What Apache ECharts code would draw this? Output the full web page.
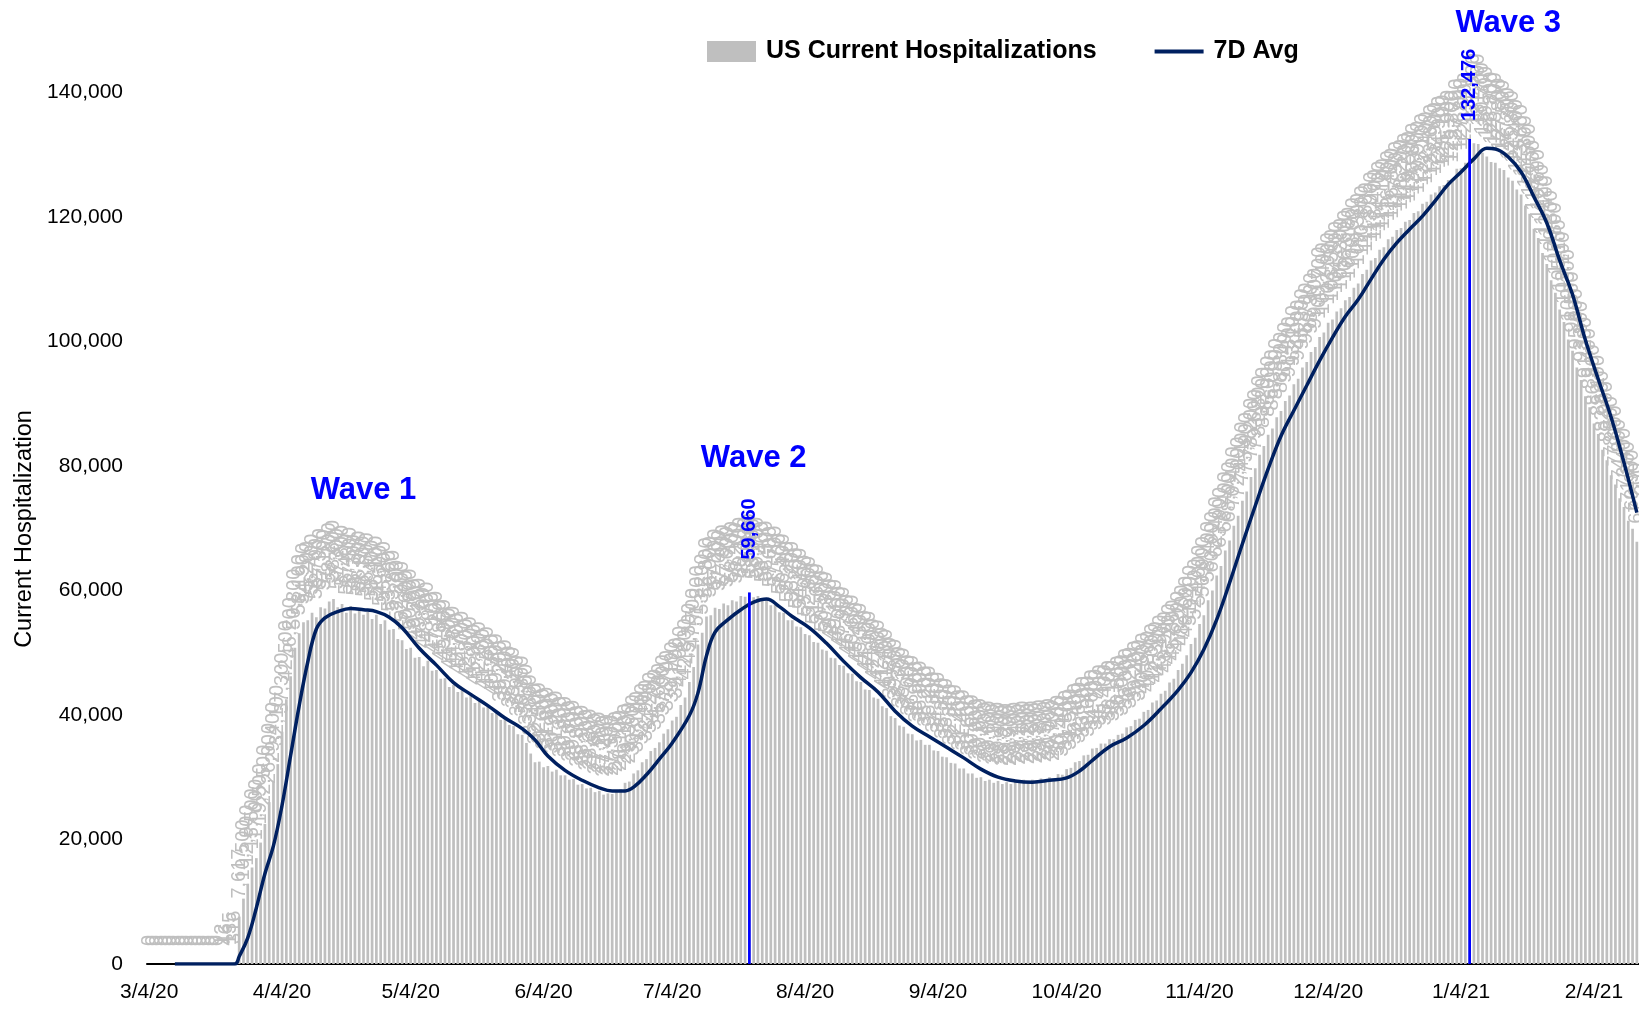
<!DOCTYPE html>
<html><head><meta charset="utf-8">
<script src="https://cdn.jsdelivr.net/npm/echarts@6/dist/echarts.min.js"></script>
<style>html,body{margin:0;padding:0;background:#fff}#chart{width:1639px;height:1010px}</style>
</head><body><div id="chart"></div>
<script>
// ---- data ----
const firstDay = [2020, 2, 4];   // 3/4/20
const dayCount = 348;            // through 2/14/21
const categories = [];
for (let i = 0; i < dayCount; i++) {
  const dt = new Date(firstDay[0], firstDay[1], firstDay[2] + i);
  categories.push((dt.getMonth() + 1) + '/' + dt.getDate() + '/' + String(dt.getFullYear()).slice(2));
}
const xTickLabels = ['3/4/20','4/4/20','5/4/20','6/4/20','7/4/20','8/4/20','9/4/20','10/4/20','11/4/20','12/4/20','1/4/21','2/4/21'];

const hospitalizations = [
  // Mar 2020 (3/4 - 3/31)
  0,0,0,0,0,0,0,0,0,0, 0,0,0,0,0,0,0, 12,46,135,316,7617, 10500,12900,15500,17000,19500,22500,
  // Apr
  26000,29400,32100,37300,42500,46200,50800,53100,54900,55200,
  56400,55700,57300,57100,58200,58600,57300,57800,56400,57500,
  56300,56900,56100,56600,55400,56100,54600,55200,53700,53800,
  // May
  52200,52000,50600,50800,49200,49300,47800,48700,47100,47200,
  45800,45900,44500,44800,43700,44000,42800,43100,41900,42300,
  41200,41500,40300,40400,39200,39400,38400,38200,36900,36800,35500,
  // Jun
  33800,32400,32500,31600,31800,30900,31200,30300,30300,29600,
  29700,28800,28900,28200,28300,27600,27800,27200,27400,27300,
  27900,28100,29100,29300,30600,31100,32400,32900,34200,34700,
  // Jul
  35600,37000,37700,39100,39700,41600,42800,45300,47700,51300,
  53200,55800,56000,57200,57000,57900,57600,58400,58200,59100,
  59000,59660,58900,59100,58400,58500,57600,57700,56500,56400,55200,
  // Aug
  55200,54200,54100,53000,52800,51700,51600,50500,50300,49200,
  49100,48000,47900,46700,46600,45400,45300,44100,44000,42800,
  42600,41400,41100,39800,39500,38300,38100,37000,36900,35900,36000,
  // Sep
  35200,35200,34300,34200,33300,33200,32300,32200,31400,31400,
  30600,30600,29900,30000,29400,29600,29100,29400,28900,29200,
  28900,29400,29100,29600,29200,29600,29300,29800,29500,30000,
  // Oct
  29700,30500,30400,31300,31500,32400,32600,33500,33600,34600,
  34700,35400,35400,36100,36100,36800,37000,38000,38200,39200,
  39400,40500,40800,42000,42300,43400,43900,45200,45800,47200,48200,
  // Nov
  49600,51400,52400,54600,56000,58400,60000,62400,63900,66400,
  68000,70400,72000,74400,75900,78200,79600,81800,83200,85000,
  86000,87800,88800,90400,91300,93100,94000,95800,96700,98300,
  // Dec
  99100,100700,101400,103000,103500,104800,105300,106600,107100,108600,
  109300,110800,111500,113000,113400,114700,115100,116400,116800,117900,
  118200,119200,119500,120600,120900,122100,122400,123600,123900,124900,125100,
  // Jan 2021
  125900,125800,127700,127800,128700,132476,131800,131700,130300,129700,
  128800,128700,127800,127500,126300,125800,124400,123600,121800,120500,
  118100,116600,114200,112400,109800,107800,105100,103100,100300,98500,95800,
  // Feb (2/1 - 2/14)
  93800,91200,89400,86800,85100,82600,80900,78500,77000,74800,73400,71200,69900,67800
];

const avgDates = ['3/10/20','3/18/20','3/24/20','3/25/20','3/27/20','3/29/20','3/31/20','4/2/20','4/4/20','4/6/20','4/8/20','4/10/20','4/12/20','4/14/20','4/17/20','4/20/20','4/23/20','4/26/20','4/29/20','5/2/20','5/6/20','5/10/20','5/14/20','5/18/20','5/22/20','5/26/20','5/30/20','6/2/20','6/5/20','6/9/20','6/13/20','6/17/20','6/20/20','6/23/20','6/25/20','6/28/20','7/1/20','7/4/20','7/8/20','7/10/20','7/12/20','7/14/20','7/17/20','7/20/20','7/23/20','7/26/20','7/29/20','8/1/20','8/5/20','8/9/20','8/13/20','8/17/20','8/21/20','8/25/20','8/29/20','9/2/20','9/6/20','9/10/20','9/14/20','9/18/20','9/22/20','9/26/20','9/30/20','10/4/20','10/7/20','10/10/20','10/14/20','10/18/20','10/22/20','10/26/20','10/30/20','11/2/20','11/5/20','11/8/20','11/11/20','11/14/20','11/17/20','11/20/20','11/23/20','11/26/20','11/29/20','12/2/20','12/5/20','12/8/20','12/11/20','12/14/20','12/17/20','12/20/20','12/23/20','12/26/20','12/29/20','1/1/21','1/4/21','1/7/21','1/10/21','1/12/21','1/15/21','1/18/21','1/21/21','1/24/21','1/27/21','1/30/21','2/2/21','2/5/21','2/8/21','2/11/21','2/14/21'];
const avgValues = [0,0,0,1200,4200,9000,14500,19000,25500,33500,41500,48500,53800,55600,56600,57100,56900,56600,55700,54000,50700,48000,45200,43300,41500,39500,37800,36000,33400,31100,29500,28300,27800,27800,28400,30400,32900,35500,39900,43500,49500,53300,55300,56900,58100,58600,57400,55800,54000,51500,48600,46000,43700,40600,38200,36500,34800,33100,31300,30000,29400,29200,29500,29900,31000,32700,34900,36300,38300,41000,44000,46800,50500,55300,61200,67500,73600,79500,84800,88900,92900,96900,100600,104000,106700,110000,113200,115800,118000,120100,122600,125200,127200,129300,131000,130900,129600,127200,123200,119000,113000,107500,100200,93900,87800,80500,72500];

const peakDates = ['7/22/20', '1/6/21'];
const seriesNames = ['US Current Hospitalizations', '7D Avg'];

// ---- derived structures ----
const avgData = avgDates.map((d, i) => [d, avgValues[i]]);
const peakData = categories.map((c, i) => peakDates.includes(c) ? hospitalizations[i] : null);
const fmt = v => Number(v).toLocaleString('en-US');

const base = "'Liberation Sans',Arial,sans-serif";

const chart = echarts.init(document.getElementById('chart'), null, {renderer: 'canvas'});
chart.setOption({
  animation: false,
  backgroundColor: '#ffffff',
  grid: {left: 147, right: 0, top: 30, bottom: 46, containLabel: false},
  legend: {
    left: 702, top: 34, selectedMode: false,
    itemWidth: 49, itemHeight: 21, itemGap: 58,
    textStyle: {fontFamily: base, fontWeight: 'bold', fontSize: 25, color: '#000', padding: [0, 0, 0, 5]},
    data: [
      {name: seriesNames[0], icon: 'rect'},
      {name: seriesNames[1], icon: 'path://M0,0H49V4H0Z'}
    ]
  },
  xAxis: {
    type: 'category', data: categories, boundaryGap: true,
    axisLine: {lineStyle: {color: '#000', width: 2}},
    axisTick: {show: false},
    axisLabel: {
      interval: (idx, val) => xTickLabels.includes(val),
      fontFamily: base, fontSize: 21, color: '#000', margin: 18
    }
  },
  yAxis: {
    type: 'value', min: 0, max: 150000, interval: 20000,
    axisLine: {show: false}, axisTick: {show: false}, splitLine: {show: false},
    axisLabel: {formatter: v => fmt(v), fontFamily: base, fontSize: 21, color: '#000', margin: 24, showMaxLabel: false},
    name: 'Current Hospitalization', nameLocation: 'middle', nameGap: 110,
    nameTextStyle: {fontFamily: base, fontSize: 23.5, color: '#000', padding: [0, 64, 0, 0]}
  },
  series: [
    {
      name: seriesNames[0], type: 'bar', data: hospitalizations, barWidth: 2.7, z: 1,
      itemStyle: {color: '#bfbfbf'},
      label: {
        show: true, position: 'top', distance: 18, rotate: 90, align: 'left', verticalAlign: 'middle',
        formatter: p => fmt(p.value), color: '#bfbfbf', fontFamily: base, fontSize: 20
      }
    },
    {
      name: 'peak', type: 'bar', barWidth: 2.7, barGap: '-100%', z: 5,
      data: peakData.map((v, i) => (v !== null && i === categories.indexOf(peakDates[0])) ? {value: v, label: {distance: 33}} : v),
      itemStyle: {color: '#0000ff'},
      label: {
        show: true, position: 'top', distance: 18, rotate: 90, align: 'left', verticalAlign: 'middle',
        formatter: p => fmt(p.value), color: '#0000ff', fontFamily: base, fontWeight: 'bold', fontSize: 20
      }
    },
    {
      name: seriesNames[1], type: 'line', data: avgData, z: 3, smooth: 0.4,
      symbol: 'none', lineStyle: {color: '#002060', width: 3.5}, itemStyle: {color: '#002060'},
      markPoint: {
        symbol: 'rect', symbolSize: 1, itemStyle: {color: 'rgba(0,0,0,0)'},
        label: {show: true, position: 'inside', formatter: '{b}', color: '#0000ff', fontFamily: base, fontWeight: 'bold', fontSize: 31},
        data: [
          {name: 'Wave 1', coord: ['4/23/20', 76000]},
          {name: 'Wave 2', coord: ['7/23/20', 81200]},
          {name: 'Wave 3', coord: ['1/15/21', 150000], label: {offset: [0, -7]}}
        ]
      }
    }
  ]
});
</script></body></html>
